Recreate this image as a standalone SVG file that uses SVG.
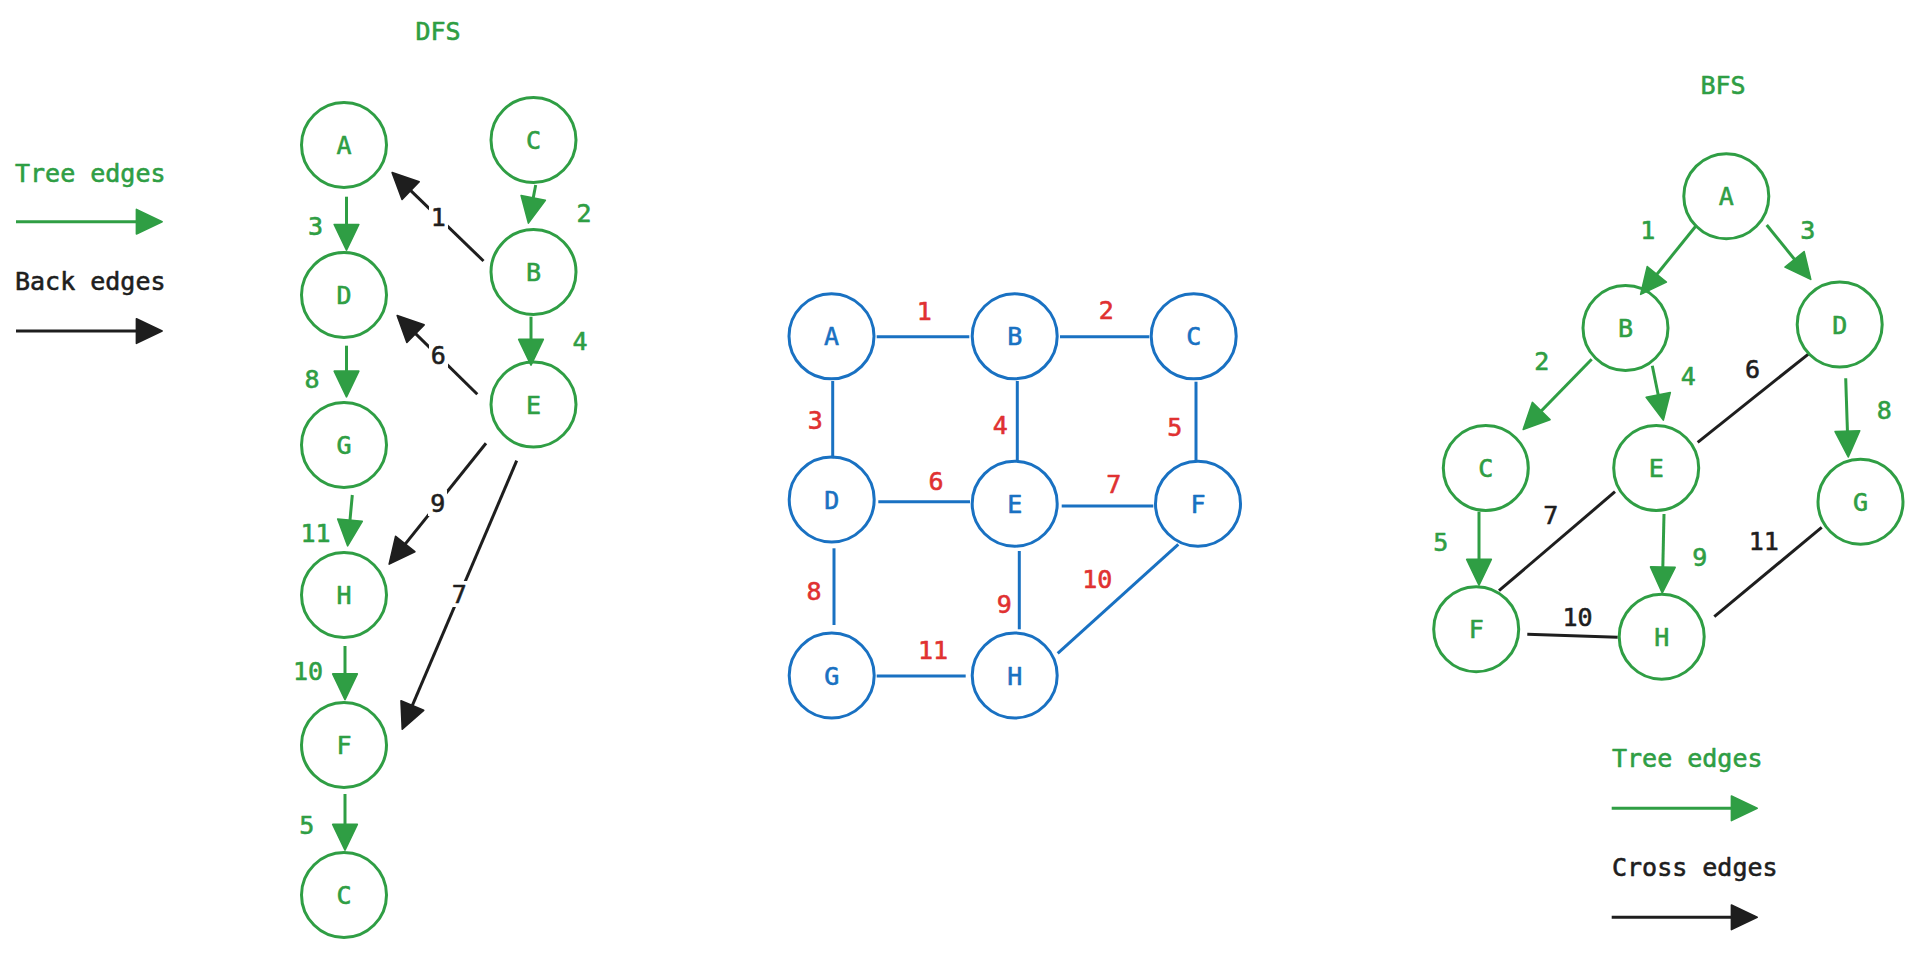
<svg xmlns="http://www.w3.org/2000/svg" width="1920" height="954" viewBox="0 0 1920 954">
<style>
text{font-family:"DejaVu Sans Mono","Liberation Mono",monospace;font-size:25px;stroke-width:0.6;stroke-linejoin:round}
.c{text-anchor:middle}
.g{fill:#2f9e44;stroke:#2f9e44}.k{fill:#1e1e1e;stroke:#1e1e1e}.r{fill:#e03131;stroke:#e03131}.b{fill:#1971c2;stroke:#1971c2}
.ng circle{fill:none;stroke:#2f9e44;stroke-width:3}
.nb circle{fill:none;stroke:#1971c2;stroke-width:3}
.eg{stroke:#2f9e44;stroke-width:3;fill:none;marker-end:url(#ag)}
.ek{stroke:#1e1e1e;stroke-width:3;fill:none;marker-end:url(#ak)}
.ekn{stroke:#1e1e1e;stroke-width:3;fill:none}
.eb{stroke:#1971c2;stroke-width:3;fill:none}
.bg{fill:#fff}
</style>
<defs>
<marker id="ag" markerUnits="userSpaceOnUse" markerWidth="30" markerHeight="30" viewBox="-2 -2 28 27" refX="22" refY="11.5" orient="auto">
<path d="M0,0 L24,11.5 L0,23 Z" fill="#2f9e44" stroke="#2f9e44" stroke-width="1.5" stroke-linejoin="round"/>
</marker>
<marker id="ak" markerUnits="userSpaceOnUse" markerWidth="30" markerHeight="30" viewBox="-2 -2 28 27" refX="22" refY="11.5" orient="auto">
<path d="M0,0 L24,11.5 L0,23 Z" fill="#1e1e1e" stroke="#1e1e1e" stroke-width="1.5" stroke-linejoin="round"/>
</marker>
</defs>
<rect width="1920" height="954" fill="#fff"/>

<!-- Titles and legends -->
<g id="titles">
<text class="g c" x="438" y="40">DFS</text>
<text class="g c" x="1723" y="94">BFS</text>
</g>
<g id="legend-dfs">
<text class="g" x="15" y="182">Tree edges</text>
<line class="eg" x1="16" y1="221.7" x2="160" y2="221.7"/>
<text class="k" x="15" y="290">Back edges</text>
<line class="ek" x1="16" y1="331" x2="160" y2="331"/>
</g>
<g id="legend-bfs">
<text class="g" x="1612" y="767">Tree edges</text>
<line class="eg" x1="1611.7" y1="808.3" x2="1755" y2="808.3"/>
<text class="k" x="1612" y="876">Cross edges</text>
<line class="ek" x1="1611.7" y1="917.3" x2="1755" y2="917.3"/>
</g>

<!-- DFS connectors -->
<g id="dfs-edges">
<line class="eg" x1="346.5" y1="196.7" x2="346.5" y2="248"/>
<line class="eg" x1="535.7" y1="185" x2="528.8" y2="221"/>
<line class="eg" x1="531" y1="316.7" x2="531" y2="363"/>
<line class="eg" x1="346.5" y1="345.7" x2="346.5" y2="394.7"/>
<line class="eg" x1="352.3" y1="495" x2="347.8" y2="543.7"/>
<line class="eg" x1="345" y1="646" x2="345" y2="697.5"/>
<line class="eg" x1="345" y1="794" x2="345" y2="848"/>
<line class="ek" x1="483.5" y1="261" x2="393.7" y2="174.1"/>
<line class="ek" x1="477.3" y1="394.3" x2="398.7" y2="317.1"/>
<line class="ek" x1="486" y1="443.3" x2="390.5" y2="562.4"/>
<line class="ek" x1="516.7" y1="460.7" x2="403.1" y2="727.2"/>
<rect class="bg" x="429" y="204" width="19" height="26"/>
<rect class="bg" x="429" y="342" width="19" height="26"/>
<rect class="bg" x="428" y="490" width="19" height="26"/>
<rect class="bg" x="450" y="581" width="19" height="26"/>
<text class="k c" x="438.3" y="225.8">1</text>
<text class="k c" x="438.3" y="364">6</text>
<text class="k c" x="437.7" y="511.7">9</text>
<text class="k c" x="459.3" y="603.3">7</text>
<text class="g c" x="315.5" y="235">3</text>
<text class="g c" x="584" y="221.5">2</text>
<text class="g c" x="580" y="350.3">4</text>
<text class="g c" x="312" y="388.3">8</text>
<text class="g c" x="315.5" y="542">11</text>
<text class="g c" x="308" y="680">10</text>
<text class="g c" x="306.7" y="834">5</text>
</g>

<!-- DFS nodes -->
<g id="dfs-A" class="ng"><circle cx="344" cy="145" r="42.5"/><text class="g c" x="344" y="154">A</text></g>
<g id="dfs-D" class="ng"><circle cx="344" cy="295" r="42.5"/><text class="g c" x="344" y="304">D</text></g>
<g id="dfs-G" class="ng"><circle cx="344" cy="445" r="42.5"/><text class="g c" x="344" y="454">G</text></g>
<g id="dfs-H" class="ng"><circle cx="344" cy="595" r="42.5"/><text class="g c" x="344" y="604">H</text></g>
<g id="dfs-F" class="ng"><circle cx="344" cy="745" r="42.5"/><text class="g c" x="344" y="754">F</text></g>
<g id="dfs-C2" class="ng"><circle cx="344" cy="895" r="42.5"/><text class="g c" x="344" y="904">C</text></g>
<g id="dfs-C" class="ng"><circle cx="533.5" cy="140" r="42.5"/><text class="g c" x="533.5" y="149">C</text></g>
<g id="dfs-B" class="ng"><circle cx="533.5" cy="272" r="42.5"/><text class="g c" x="533.5" y="281">B</text></g>
<g id="dfs-E" class="ng"><circle cx="533.5" cy="404.5" r="42.5"/><text class="g c" x="533.5" y="413.5">E</text></g>

<!-- Middle graph connectors -->
<g id="graph-edges">
<line class="eb" x1="876.7" y1="336.7" x2="969.3" y2="336.7"/>
<line class="eb" x1="1060" y1="336.7" x2="1149.3" y2="336.7"/>
<line class="eb" x1="832.7" y1="381" x2="832.7" y2="458.3"/>
<line class="eb" x1="1017.3" y1="381" x2="1017.3" y2="461"/>
<line class="eb" x1="1196" y1="381.7" x2="1196" y2="461.7"/>
<line class="eb" x1="878.3" y1="501.7" x2="970" y2="501.7"/>
<line class="eb" x1="1061.7" y1="506" x2="1153.3" y2="506"/>
<line class="eb" x1="834" y1="548.3" x2="834" y2="625"/>
<line class="eb" x1="1019.3" y1="551" x2="1019.3" y2="629.3"/>
<line class="eb" x1="1178.3" y1="544.3" x2="1057.7" y2="653.3"/>
<line class="eb" x1="876.7" y1="676" x2="965.7" y2="676"/>
<text class="r c" x="924.3" y="319.5">1</text>
<text class="r c" x="1106.3" y="318.5">2</text>
<text class="r c" x="815.3" y="429">3</text>
<text class="r c" x="1000.3" y="434.3">4</text>
<text class="r c" x="1174.8" y="436">5</text>
<text class="r c" x="936" y="489.8">6</text>
<text class="r c" x="1113.7" y="492.8">7</text>
<text class="r c" x="814" y="599.8">8</text>
<text class="r c" x="1004.2" y="613.2">9</text>
<text class="r c" x="1097.2" y="588.2">10</text>
<text class="r c" x="933" y="659.2">11</text>
</g>

<!-- Middle graph nodes -->
<g id="g-A" class="nb"><circle cx="831.5" cy="336.3" r="42.5"/><text class="b c" x="831.5" y="345.3">A</text></g>
<g id="g-B" class="nb"><circle cx="1014.7" cy="336.3" r="42.5"/><text class="b c" x="1014.7" y="345.3">B</text></g>
<g id="g-C" class="nb"><circle cx="1193.7" cy="336.3" r="42.5"/><text class="b c" x="1193.7" y="345.3">C</text></g>
<g id="g-D" class="nb"><circle cx="831.7" cy="499.5" r="42.5"/><text class="b c" x="831.7" y="508.5">D</text></g>
<g id="g-E" class="nb"><circle cx="1014.7" cy="503.7" r="42.5"/><text class="b c" x="1014.7" y="512.7">E</text></g>
<g id="g-F" class="nb"><circle cx="1198" cy="503.7" r="42.5"/><text class="b c" x="1198" y="512.7">F</text></g>
<g id="g-G" class="nb"><circle cx="831.7" cy="675.5" r="42.5"/><text class="b c" x="831.7" y="684.5">G</text></g>
<g id="g-H" class="nb"><circle cx="1014.7" cy="675.5" r="42.5"/><text class="b c" x="1014.7" y="684.5">H</text></g>

<!-- BFS connectors -->
<g id="bfs-edges">
<line class="eg" x1="1696.7" y1="225" x2="1642" y2="292.7"/>
<line class="eg" x1="1766.7" y1="225" x2="1809.4" y2="277.7"/>
<line class="eg" x1="1591.7" y1="359.3" x2="1524.7" y2="427.9"/>
<line class="eg" x1="1652.3" y1="365.7" x2="1662.9" y2="418"/>
<line class="eg" x1="1845.7" y1="378.3" x2="1848.2" y2="454.7"/>
<line class="eg" x1="1479" y1="511.7" x2="1479" y2="583"/>
<line class="eg" x1="1664" y1="514" x2="1662.3" y2="590.7"/>
<line class="ekn" x1="1809.3" y1="353.3" x2="1697.7" y2="442.3"/>
<line class="ekn" x1="1615" y1="491.7" x2="1499" y2="590.7"/>
<line class="ekn" x1="1527.3" y1="634.3" x2="1617.7" y2="637.3"/>
<line class="ekn" x1="1821.7" y1="527.3" x2="1714.3" y2="616.7"/>
<text class="g c" x="1647.8" y="239">1</text>
<text class="g c" x="1807.8" y="239">3</text>
<text class="g c" x="1541.7" y="369.8">2</text>
<text class="g c" x="1688.3" y="384.8">4</text>
<text class="g c" x="1884.2" y="419">8</text>
<text class="g c" x="1440.8" y="551.2">5</text>
<text class="g c" x="1699.7" y="566.2">9</text>
<text class="k c" x="1752.5" y="378.2">6</text>
<text class="k c" x="1550.8" y="523.5">7</text>
<text class="k c" x="1577.5" y="625.7">10</text>
<text class="k c" x="1763.8" y="549.8">11</text>
</g>

<!-- BFS nodes -->
<g id="bfs-A" class="ng"><circle cx="1726.3" cy="196.2" r="42.5"/><text class="g c" x="1726.3" y="205.2">A</text></g>
<g id="bfs-B" class="ng"><circle cx="1625.5" cy="328" r="42.5"/><text class="g c" x="1625.5" y="337">B</text></g>
<g id="bfs-D" class="ng"><circle cx="1839.7" cy="324.5" r="42.5"/><text class="g c" x="1839.7" y="333.5">D</text></g>
<g id="bfs-C" class="ng"><circle cx="1485.8" cy="468" r="42.5"/><text class="g c" x="1485.8" y="477">C</text></g>
<g id="bfs-E" class="ng"><circle cx="1656.2" cy="468" r="42.5"/><text class="g c" x="1656.2" y="477">E</text></g>
<g id="bfs-G" class="ng"><circle cx="1860.5" cy="501.7" r="42.5"/><text class="g c" x="1860.5" y="510.7">G</text></g>
<g id="bfs-F" class="ng"><circle cx="1476.2" cy="629.2" r="42.5"/><text class="g c" x="1476.2" y="638.2">F</text></g>
<g id="bfs-H" class="ng"><circle cx="1661.7" cy="636.7" r="42.5"/><text class="g c" x="1661.7" y="645.7">H</text></g>
</svg>
